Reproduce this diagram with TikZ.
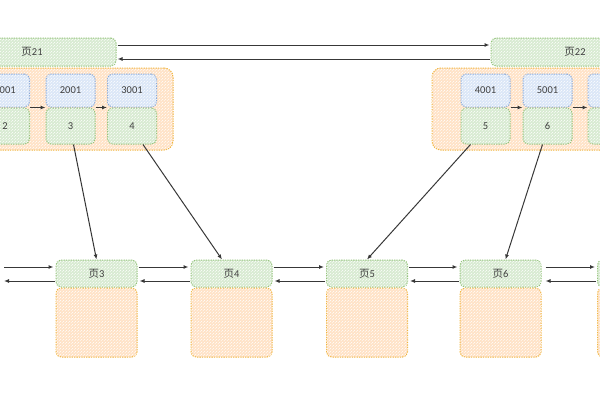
\documentclass[tikz,border=0pt]{standalone}
\usepackage{fontspec}
\setmainfont{Carlito}
\newfontfamily\cjk{Noto Sans CJK SC}
\usetikzlibrary{arrows.meta,patterns}
\definecolor{gfill}{HTML}{D8EBD2}
\definecolor{gline}{HTML}{93C27A}
\definecolor{bfill}{HTML}{DBE6F7}
\definecolor{bline}{HTML}{88A9DA}
\definecolor{ofill}{HTML}{FFE2C6}
\definecolor{oline}{HTML}{F0B43C}
\tikzset{
  base/.style={draw, rounded corners=5pt, line width=1pt, dash pattern=on 1.3pt off 1.1pt,
    inner sep=0pt, font=\fontsize{10.5}{12}\selectfont, text=black!75,
    postaction={pattern=north east lines, pattern color=white}},
  gbox/.style={base, draw=gline, fill=gfill},
  bbox/.style={base, draw=bline, fill=bfill},
  obox/.style={base, draw=oline, fill=ofill},
  arr/.style={-{Latex[length=5pt,width=4pt]}, line width=1pt, draw=black!78},
}
\begin{document}
\begin{tikzpicture}[x=1pt,y=-1pt]
\useasboundingbox (0,0) rectangle (600,400);
\clip (0,0) rectangle (600,400);

% top pages
\node[gbox, minimum width=168pt, minimum height=28pt] (p21) at (32,52) {{\cjk 页}21};
\node[gbox, minimum width=168pt, minimum height=28pt] (p22) at (575,52) {{\cjk 页}22};
\draw[arr] ([yshift=7pt,xshift=1pt]p21.east) -- ([yshift=7pt,xshift=-1pt]p22.west);
\draw[arr] ([yshift=-7pt,xshift=-1pt]p22.west) -- ([yshift=-7pt,xshift=1pt]p21.east);

% containers
\node[obox, rounded corners=9pt, minimum width=253pt, minimum height=82pt] (cL) at (46.5,109) {};
\node[obox, rounded corners=9pt, minimum width=253pt, minimum height=82pt] (cR) at (558.5,109) {};

% left keys
\node[bbox, minimum width=49pt, minimum height=33pt] (k1) at (5,90.5) {1001};
\node[bbox, minimum width=49pt, minimum height=33pt] (k2) at (70.5,90.5) {2001};
\node[bbox, minimum width=49pt, minimum height=33pt] (k3) at (132,90.5) {3001};
\node[gbox, minimum width=49pt, minimum height=36pt] (v2) at (5,126) {2};
\node[gbox, minimum width=49pt, minimum height=36pt] (v3) at (70.5,126) {3};
\node[gbox, minimum width=49pt, minimum height=36pt] (v4) at (132,126) {4};
\draw[arr] (k1.south east) -- (k2.south west);
\draw[arr] (k2.south east) -- (k3.south west);

% right keys
\node[bbox, minimum width=49pt, minimum height=33pt] (k4) at (485.5,90.5) {4001};
\node[bbox, minimum width=49pt, minimum height=33pt] (k5) at (547.5,90.5) {5001};
\node[bbox, minimum width=49pt, minimum height=33pt] (k6) at (612.5,90.5) {};
\node[gbox, minimum width=49pt, minimum height=36pt] (v5) at (485.5,126) {5};
\node[gbox, minimum width=49pt, minimum height=36pt] (v6) at (547.5,126) {6};
\node[gbox, minimum width=49pt, minimum height=36pt] (v7) at (612.5,126) {};
\draw[arr] (k4.south east) -- (k5.south west);
\draw[arr] (k5.south east) -- (k6.south west);

% bottom pages
\foreach \n/\x/\t in {p0/-46/, p3/96.5/3, p4/231.5/4, p5/367/5, p6/500.5/6, p7/638/}{
  \node[gbox, minimum width=81pt, minimum height=27pt] (\n) at (\x,273.5)
    {\ifx\t\empty\else{\cjk 页}\t\fi};
  \node[obox, minimum width=81pt, minimum height=69pt] (\n b) at (\x,322.5) {};
}
\draw[arr] ([yshift=6.5pt,xshift=9pt]p0.east) -- ([yshift=6.5pt,xshift=-2pt]p3.west);
\draw[arr] ([yshift=-7.5pt,xshift=-1pt]p3.west) -- ([yshift=-7.5pt,xshift=9pt]p0.east);
\foreach \a/\b in {p3/p4, p4/p5, p5/p6}{
  \draw[arr] ([yshift=6.5pt,xshift=1pt]\a.east) -- ([yshift=6.5pt,xshift=-2pt]\b.west);
  \draw[arr] ([yshift=-7.5pt,xshift=-1pt]\b.west) -- ([yshift=-7.5pt,xshift=2pt]\a.east);
}
\draw[arr] ([yshift=6.5pt,xshift=4pt]p6.east) -- ([yshift=6.5pt,xshift=-2pt]p7.west);
\draw[arr] ([yshift=-7.5pt,xshift=-1pt]p7.west) -- ([yshift=-7.5pt,xshift=4pt]p6.east);

% pointers
\draw[arr] ([xshift=3pt]v3.south) -- (p3.north);
\draw[arr] ([xshift=11pt]v4.south) -- ([xshift=-9.5pt]p4.north);
\draw[arr] ([xshift=-15pt]v5.south) -- (p5.north);
\draw[arr] ([xshift=-5pt]v6.south) -- ([xshift=5pt]p6.north);
\end{tikzpicture}
\end{document}
